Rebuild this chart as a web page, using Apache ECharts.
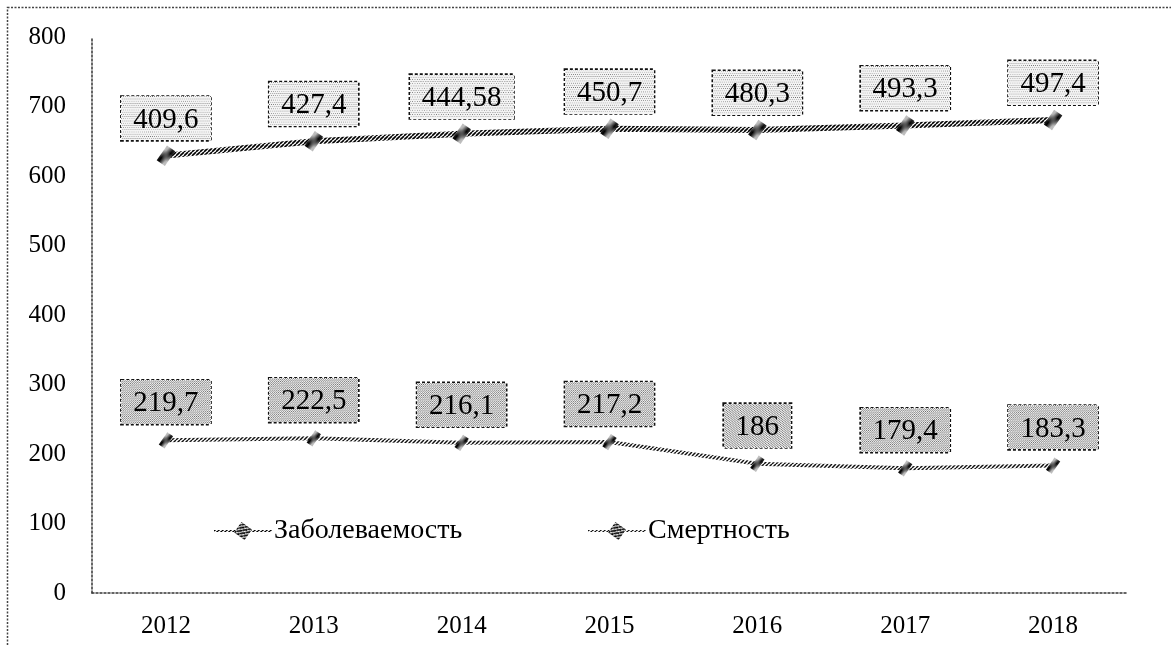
<!DOCTYPE html>
<html>
<head>
<meta charset="utf-8">
<script src="https://cdn.jsdelivr.net/npm/echarts@6/dist/echarts.min.js"></script>
<style>
  html, body { margin: 0; padding: 0; background: #fff; }
  #chart { width: 1171px; height: 646px; }
</style>
</head>
<body>
<div id="chart"></div>
<script>
// ---------------------------------------------------
// Datos
// ---------------------------------------------------
const years = ['2012', '2013', '2014', '2015', '2016', '2017', '2018'];
const morbidity = [409.6, 427.4, 444.58, 450.7, 480.3, 493.3, 497.4];   // Заболеваемость
const mortality = [219.7, 222.5, 216.1, 217.2, 186, 179.4, 183.3];       // Смертность
const yTicks = [0, 100, 200, 300, 400, 500, 600, 700, 800];

const FONT = "'Liberation Serif', 'Times New Roman', serif";

// ---------------------------------------------------
// Patrones (rayado / punteado)
// ---------------------------------------------------
function hatchCanvas(w, h, bg, ink, step, lw) {
  const c = document.createElement('canvas');
  c.width = w; c.height = h;
  const ctx = c.getContext('2d');
  ctx.fillStyle = bg;
  ctx.fillRect(0, 0, w, h);
  ctx.strokeStyle = ink;
  ctx.lineWidth = lw;
  for (let x = -h; x < w + h; x += step) {
    ctx.beginPath();
    ctx.moveTo(x, h);
    ctx.lineTo(x + h, 0);
    ctx.stroke();
  }
  return c;
}

function dotCanvas(w, h, bg, ink, step) {
  const c = document.createElement('canvas');
  c.width = w; c.height = h;
  const ctx = c.getContext('2d');
  ctx.fillStyle = bg;
  ctx.fillRect(0, 0, w, h);
  ctx.fillStyle = ink;
  for (let y = 0; y < h; y += step) {
    for (let x = (y / step) % 2 ? step / 2 : 0; x < w; x += step) {
      ctx.fillRect(x, y, 1, 1);
    }
  }
  return c;
}

const lineHatchTop = { image: hatchCanvas(4, 4, '#ffffff', '#000000', 4, 1.6), repeat: 'repeat' };
const lineHatchLow = { image: hatchCanvas(4, 4, '#ffffff', '#111111', 4, 1.5), repeat: 'repeat' };
const markHatch = { image: hatchCanvas(4, 4, '#ffffff', '#000000', 4, 1.8), repeat: 'repeat' };
const boxDots = { image: dotCanvas(130, 60, '#f4f4f4', '#666666', 3) };
const boxHatch = { image: hatchCanvas(130, 60, '#eeeeee', '#6a6a6a', 3, 1) };

const fmt = v => String(v).replace('.', ',');

function labelStyle(bg, dist) {
  return {
    show: true,
    position: 'top',
    distance: dist,
    fontFamily: FONT,
    fontSize: 29,
    color: '#000',
    backgroundColor: bg,
    borderColor: '#111',
    borderWidth: 2.5,
    borderType: [3, 2],
    padding: [9, 12, 6, 12],
    formatter: p => fmt(p.value)
  };
}

const legendText = { fontFamily: FONT, fontSize: 28, color: '#000', padding: [0, 0, 0, -3] };

// ---------------------------------------------------
// Gráfico
// ---------------------------------------------------
const chart = echarts.init(document.getElementById('chart'));

const option = {
  backgroundColor: '#fff',
  animation: false,
  graphic: [{
    type: 'rect',
    shape: { x: 7.5, y: 7.5, width: 1220, height: 700 },
    style: { fill: 'none', stroke: '#444', lineWidth: 1.5, lineDash: [2, 1.5] },
    silent: true
  }],
  grid: { left: 92, right: 44, top: 37, bottom: 53 },
  legend: [
    {
      data: ['Заболеваемость'],
      left: 208,
      top: 512,
      itemWidth: 58,
      itemHeight: 16,
      textStyle: legendText
    },
    {
      data: ['Смертность'],
      left: 582,
      top: 512,
      itemWidth: 58,
      itemHeight: 16,
      textStyle: legendText
    }
  ],
  xAxis: {
    type: 'category',
    data: years,
    boundaryGap: true,
    axisLine: { lineStyle: { color: '#333', type: [2, 2], width: 1.5 } },
    axisTick: { show: false },
    axisLabel: { fontFamily: FONT, fontSize: 25, color: '#000', margin: 21 }
  },
  yAxis: {
    type: 'value',
    min: yTicks[0],
    max: yTicks[yTicks.length - 1],
    interval: 100,
    axisLine: { show: true, lineStyle: { color: '#333', type: [2, 2], width: 1.5 } },
    axisTick: { show: false },
    splitLine: { show: false },
    axisLabel: { fontFamily: FONT, fontSize: 25, color: '#000', margin: 26 }
  },
  series: [
    {
      name: 'Смертность',
      type: 'line',
      stack: 'total',
      data: mortality,
      symbol: 'rect',
      symbolSize: [7, 15],
      symbolRotate: -35,
      lineStyle: { color: lineHatchLow, width: 4 },
      itemStyle: { color: markHatch, borderWidth: 0 },
      label: labelStyle(boxHatch, 8),
      z: 3
    },
    {
      name: 'Заболеваемость',
      type: 'line',
      stack: 'total',
      data: morbidity,
      symbol: 'rect',
      symbolSize: [10, 18],
      symbolRotate: -35,
      lineStyle: { color: lineHatchTop, width: 6 },
      itemStyle: { color: markHatch, borderWidth: 0 },
      label: labelStyle(boxDots, 5),
      z: 3
    }
  ]
};

chart.setOption(option);
</script>
</body>
</html>
